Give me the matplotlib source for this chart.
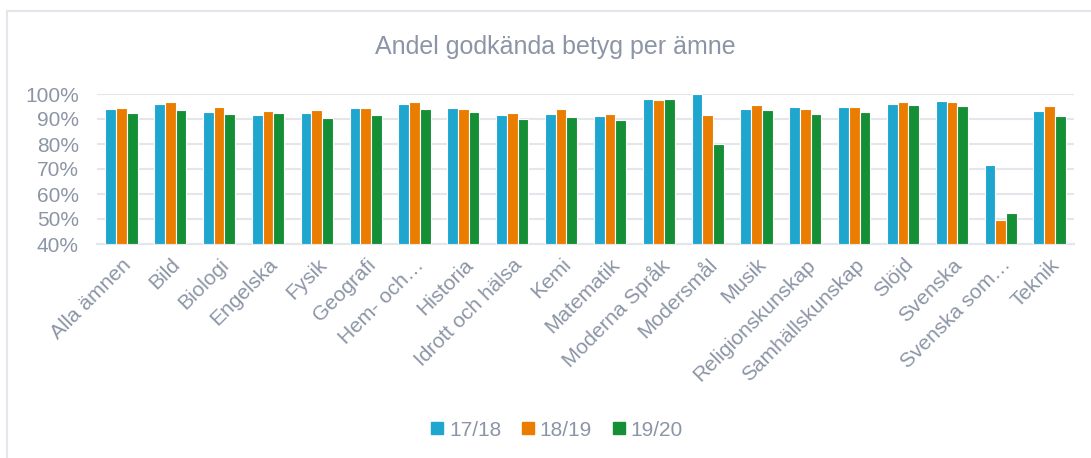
import numpy as np
import matplotlib.pyplot as plt
from matplotlib.lines import Line2D

plt.rcParams['font.family'] = ['Liberation Sans', 'DejaVu Sans']

amnen = ['Alla ämnen', 'Bild', 'Biologi', 'Engelska', 'Fysik', 'Geografi',
         'Hem- och…', 'Historia', 'Idrott och hälsa', 'Kemi', 'Matematik',
         'Moderna Språk', 'Modersmål', 'Musik', 'Religionskunskap',
         'Samhällskunskap', 'Slöjd', 'Svenska', 'Svenska som…', 'Teknik']
ar_1718 = [94.1, 96.0, 92.8, 91.8, 92.6, 94.5, 96.0, 94.6, 91.7, 92.0,
           91.4, 98.1, 100.0, 94.0, 95.0, 95.0, 96.1, 97.1, 71.5, 93.3]
ar_1819 = [94.6, 96.8, 95.0, 93.4, 93.8, 94.4, 96.7, 94.0, 92.4, 94.0,
           92.2, 97.5, 91.8, 95.8, 94.1, 94.9, 96.9, 96.8, 49.8, 95.2]
ar_1920 = [92.5, 93.8, 92.2, 92.5, 90.6, 91.7, 94.2, 92.8, 90.0, 90.8,
           89.6, 97.9, 79.9, 93.7, 92.2, 93.0, 95.6, 95.4, 52.6, 91.4]
serier = ['17/18', '18/19', '19/20']
farger = ['#1fa6cf', '#ea7d00', '#158f36']

txtcol = '#8c95a6'
gridcol = '#e3e6ea'

fig = plt.figure(figsize=(10.91, 4.58), dpi=100)
ax = fig.add_axes([97/1091, 1-244/458, (1074-97)/1091, 150/458])

x = np.arange(len(amnen))
w = 0.22
for i, (vals, c) in enumerate(zip([ar_1718, ar_1819, ar_1920], farger)):
    ax.bar(x + (i-1)*w, np.array(vals) - 40, bottom=40, width=w, color=c,
           edgecolor='white', linewidth=0.8, zorder=3)

ax.set_ylim(40, 100)
ax.set_xlim(-0.5, len(amnen)-0.5)
ax.set_yticks(range(40, 101, 10))
ax.set_yticklabels([f'{v}%' for v in range(40, 101, 10)], fontsize=15, color=txtcol)
ax.set_xticks(x)
ax.set_xticklabels(amnen, rotation=45, ha='right', rotation_mode='anchor',
                   fontsize=15, color=txtcol)
ax.tick_params(axis='y', length=0, pad=13)
ax.tick_params(axis='x', length=0, pad=8)
ax.yaxis.grid(True, color=gridcol, linewidth=1.5, zorder=0)
for s in ['top', 'right', 'left']:
    ax.spines[s].set_visible(False)
ax.spines['bottom'].set_color(gridcol)
ax.spines['bottom'].set_linewidth(1.5)

fig.text(555/1091, 1-47/458, 'Andel godkända betyg per ämne', ha='center',
         va='center', fontsize=18, color=txtcol)

handles = [Line2D([], [], marker='s', linestyle='none', markersize=8,
                  markerfacecolor=c, markeredgecolor=c) for c in farger]
fig.legend(handles, serier, loc='center', bbox_to_anchor=(557/1091, 1-430/458),
           ncol=3, frameon=False, fontsize=15, labelcolor=txtcol,
           handletextpad=0.25, columnspacing=1.0, handlelength=0.6)

# chart frame (top and left edge visible)
fig.add_artist(Line2D([7/1091, 7/1091], [0, 1-11/458], color=gridcol, linewidth=1.5))
fig.add_artist(Line2D([7/1091, 1], [1-11/458, 1-11/458], color=gridcol, linewidth=1.5))

fig.savefig('out.png', dpi=100)
